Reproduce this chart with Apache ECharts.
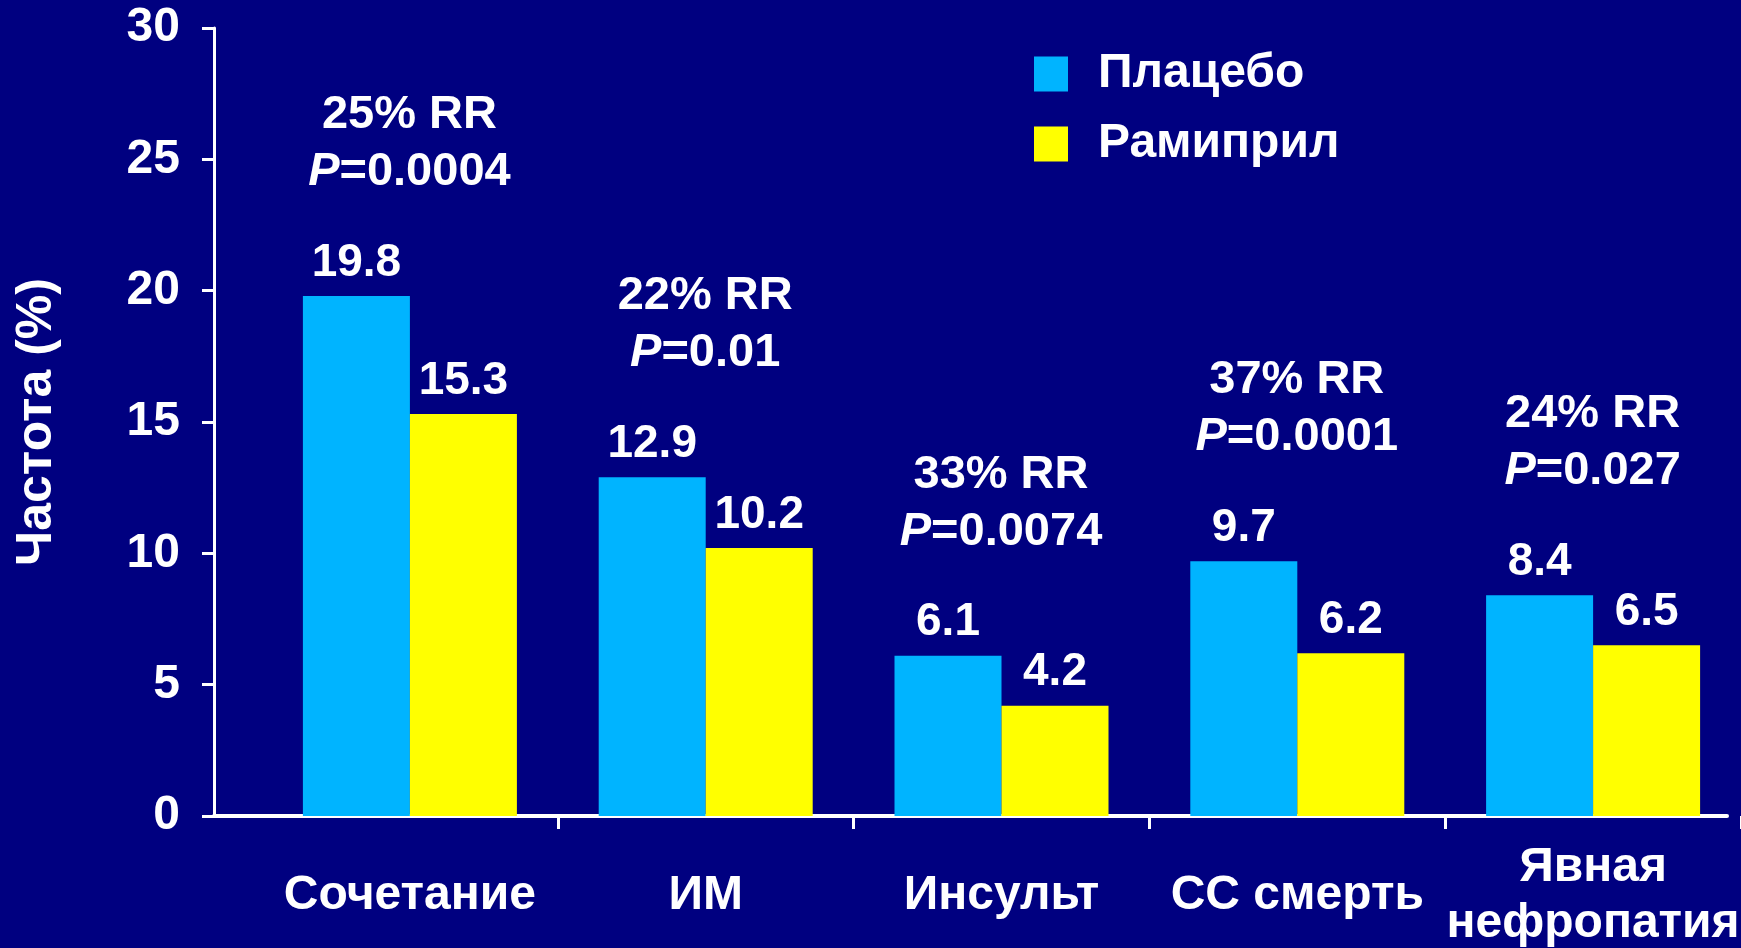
<!DOCTYPE html>
<html>
<head>
<meta charset="utf-8">
<script src="https://cdn.jsdelivr.net/npm/echarts@6/dist/echarts.min.js"></script>
<style>
  html, body { margin: 0; padding: 0; background: #000080; }
  #chart { width: 1741px; height: 948px; }
</style>
</head>
<body>
<div id="chart"></div>
<script>
// data
const categories = ['Сочетание', 'ИМ', 'Инсульт', 'СС смерть', 'Явная\nнефропатия'];
const placebo = [19.8, 12.9, 6.1, 9.7, 8.4];
const ramipril = [15.3, 10.2, 4.2, 6.2, 6.5];
const rrText = ['25% RR', '22% RR', '33% RR', '37% RR', '24% RR'];
const pText = ['0.0004', '0.01', '0.0074', '0.0001', '0.027'];
const seriesNames = ['Плацебо', 'Рамиприл'];
const yMin = 0, yMax = 30, yStep = 5;

const font = "'Liberation Sans', Arial, sans-serif";
const white = '#ffffff';

const chart = echarts.init(document.getElementById('chart'));

const option = {
  backgroundColor: '#000080',
  textStyle: { fontFamily: font, color: white, fontWeight: 'bold' },
  legend: {
    data: seriesNames,
    orient: 'vertical',
    left: 1029,
    top: 45,
    icon: 'rect',
    itemWidth: 34,
    itemHeight: 35,
    itemGap: 22,
    formatter: (name) => '{t|' + name + '}',
    textStyle: {
      color: white,
      rich: {
        t: { fontFamily: font, fontSize: 48, fontWeight: 'bold', color: white, padding: [0, 0, 0, 25] },
      },
    },
  },
  grid: [
    // grid 0 carries the y axis and the long x axis line
    { left: 214, right: 14, top: 28, bottom: 132, outerBoundsMode: 'none' },
    // grid 1 carries the bars
    { left: 262, right: 0, top: 28, bottom: 132, outerBoundsMode: 'none' },
  ],
  xAxis: [
    {
      gridIndex: 0,
      type: 'category',
      data: categories,
      axisLine: { lineStyle: { color: white, width: 4 } },
      axisTick: { show: false },
      axisLabel: { show: false },
    },
    {
      gridIndex: 1,
      type: 'category',
      data: categories,
      axisLine: { show: false },
      axisTick: {
        show: true,
        interval: (idx) => idx > 0,
        length: 13,
        lineStyle: { color: white, width: 3 },
      },
      axisLabel: {
        interval: 0,
        color: white,
        fontFamily: font,
        fontSize: 48,
        fontWeight: 'bold',
        lineHeight: 56,
        verticalAlign: 'middle',
        margin: 80,
      },
    },
  ],
  yAxis: [
    {
      gridIndex: 0,
      type: 'value',
      min: yMin,
      max: yMax,
      interval: yStep,
      name: 'Частота (%)',
      nameLocation: 'middle',
      nameGap: 152,
      nameTextStyle: { color: white, fontFamily: font, fontSize: 50, fontWeight: 'bold' },
      axisLine: { show: true, lineStyle: { color: white, width: 3 } },
      axisTick: { show: true, length: 12, lineStyle: { color: white, width: 3 } },
      axisLabel: { color: white, fontFamily: font, fontSize: 48, fontWeight: 'bold', margin: 34 },
      splitLine: { show: false },
    },
    {
      gridIndex: 1,
      type: 'value',
      min: yMin,
      max: yMax,
      interval: yStep,
      show: false,
      splitLine: { show: false },
    },
  ],
  series: [
    {
      name: seriesNames[0],
      type: 'bar',
      xAxisIndex: 1,
      yAxisIndex: 1,
      data: placebo,
      barWidth: 107,
      barGap: '0%',
      itemStyle: { color: '#00B4FF' },
      label: {
        show: true,
        position: 'top',
        distance: 10,
        color: white,
        fontFamily: font,
        fontSize: 46,
        fontWeight: 'bold',
      },
      // RR / P annotation above each group
      markPoint: {
        symbol: 'rect',
        symbolSize: 1,
        itemStyle: { color: 'transparent' },
        label: {
          show: true,
          position: 'top',
          distance: 95,
          offset: [53, 0],
          formatter: (p) => '{a|' + rrText[p.dataIndex] + '}\n{i|P}{a|=' + pText[p.dataIndex] + '}',
          rich: {
            a: { color: white, fontFamily: font, fontSize: 47, fontWeight: 'bold', lineHeight: 57 },
            i: { color: white, fontFamily: font, fontSize: 47, fontWeight: 'bold', fontStyle: 'italic', lineHeight: 57 },
          },
        },
        data: placebo.map((v, i) => ({ coord: [i, v] })),
      },
    },
    {
      name: seriesNames[1],
      type: 'bar',
      xAxisIndex: 1,
      yAxisIndex: 1,
      data: ramipril,
      barWidth: 107,
      barGap: '0%',
      itemStyle: { color: '#FFFF00' },
      label: {
        show: true,
        position: 'top',
        distance: 10,
        color: white,
        fontFamily: font,
        fontSize: 46,
        fontWeight: 'bold',
      },
    },
  ],
};

chart.setOption(option);
</script>
</body>
</html>
